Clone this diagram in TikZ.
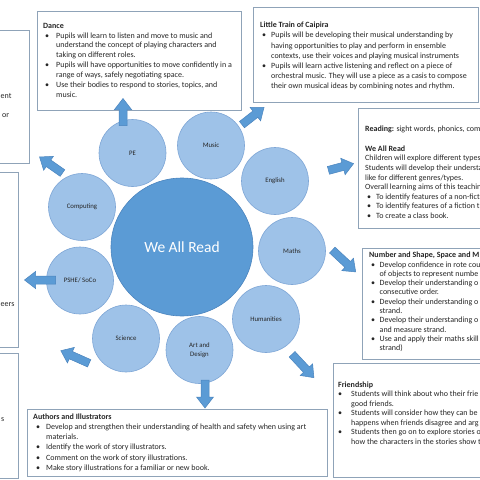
\documentclass[tikz,border=0pt]{standalone}
\usepackage{fontspec}
\setmainfont{Carlito}
\usetikzlibrary{shapes.geometric}
\definecolor{circfill}{HTML}{9EC2E8}
\definecolor{circdraw}{HTML}{7EA6D6}
\definecolor{mainfill}{HTML}{5B9BD5}
\definecolor{maindraw}{HTML}{4A84BE}
\definecolor{boxdraw}{HTML}{8FA3B8}
\definecolor{txt}{HTML}{262626}
\newcommand{\bul}[2]{\hspace*{#1}\makebox[#2][l]{\textbullet}}
\newcommand{\cnt}[1]{\hspace*{#1}}
% block arrow: centre x, centre y, angle, length
\newcommand{\blockarrow}[4]{%
  \draw[barrow, shift={(#1,#2)}, rotate=#3]
    ({-#4/2},-4) -- ({#4/2-11},-4) -- ({#4/2-11},-8.5) -- ({#4/2},0)
    -- ({#4/2-11},8.5) -- ({#4/2-11},4) -- ({-#4/2},4) -- cycle;}
\begin{document}
\begin{tikzpicture}[x=1pt,y=-1pt,
  infobox/.style={draw=boxdraw, line width=0.8pt, fill=white},
  boxtext/.style={anchor=north west, align=left, inner sep=0pt, text=txt},
  topic/.style={circle, draw=circdraw, fill=circfill, line width=0.6pt, minimum size=67pt, inner sep=0pt, font=\fontsize{6.8}{8.7}\selectfont, text=txt, align=center},
  hub/.style={ellipse, draw=maindraw, fill=mainfill, line width=0.6pt, minimum width=142pt, minimum height=138pt, inner sep=0pt, font=\fontsize{15.5}{18}\selectfont, text=white},
  barrow/.style={fill=mainfill, draw=maindraw, line width=0.5pt, line join=miter}]
\useasboundingbox (0,0) rectangle (480,480);
\clip (0,0) rectangle (480,480);
\fill[white] (0,0) rectangle (480,480);

% left boxes (cut by the edge)
\draw[infobox] (-10,30) rectangle (29,163);
\draw[infobox] (-10,172) rectangle (18,347);
\draw[infobox] (-10,353) rectangle (18,478);
\node[boxtext, anchor=base west, font=\fontsize{8}{10}\selectfont] (l1) at (0.5,98) {ent};
\node[boxtext, anchor=base west, font=\fontsize{8}{10}\selectfont] (l2) at (2,117) {or};
\node[boxtext, anchor=base west, font=\fontsize{8}{10}\selectfont] (l3) at (0.5,306) {eers};
\node[boxtext, anchor=base west, font=\fontsize{8}{10}\selectfont] (l4) at (1,421) {s};

% Dance
\draw[infobox] (37,11) rectangle (241,110);
\node[boxtext, font=\fontsize{8}{9.9}\selectfont] (dance) at (43,21) {\strut\textbf{Dance}\\
\bul{2pt}{11pt}Pupils will learn to listen and move to music and\\
\cnt{13pt}understand the concept of playing characters and\\
\cnt{13pt}taking on different roles.\\
\bul{2pt}{11pt}Pupils will have opportunities to move confidently in a\\
\cnt{13pt}range of ways, safely negotiating space.\\
\bul{2pt}{11pt}Use their bodies to respond to stories, topics, and\\
\cnt{13pt}music.};

% Little Train of Caipira
\draw[infobox] (253,7) rectangle (478,102);
\node[boxtext, font=\fontsize{8}{10.2}\selectfont] (train) at (260,20.4) {\strut\textbf{Little Train of Caipira}\\
\bul{2pt}{9pt}Pupils will be developing their musical understanding by\\
\cnt{11pt}having opportunities to play and perform in ensemble\\
\cnt{11pt}contexts, use their voices and playing musical instruments\\
\bul{2pt}{9pt}Pupils will learn active listening and reflect on a piece of\\
\cnt{11pt}orchestral music. They will use a piece as a casis to compose\\
\cnt{11pt}their own musical ideas by combining notes and rhythm.};

% Reading
\draw[infobox] (358,108) rectangle (490,228);
\node[boxtext, font=\fontsize{8}{9.6}\selectfont] (reading) at (365,124.7) {\strut\textbf{Reading:} sight words, phonics, com\\[10pt]
\textbf{We All Read}\\
Children will explore different types\\
Students will develop their understa\\
like for different genres/types.\\
Overall learning aims of this teachin\\
\bul{2pt}{9pt}To identify features of a non-fict\\
\bul{2pt}{9pt}To identify features of a fiction t\\
\bul{2pt}{9pt}To create a class book.};

% Number
\draw[infobox] (362,248) rectangle (490,359);
\node[boxtext, font=\fontsize{8}{9.3}\selectfont] (number) at (369,251) {\strut\textbf{Number and Shape, Space and M}\\
\bul{2pt}{8.5pt}Develop confidence in rote cou\\
\cnt{10.5pt}of objects to represent numbe\\
\bul{2pt}{8.5pt}Develop their understanding o\\
\cnt{10.5pt}consecutive order.\\
\bul{2pt}{8.5pt}Develop their understanding o\\
\cnt{10.5pt}strand.\\
\bul{2pt}{8.5pt}Develop their understanding o\\
\cnt{10.5pt}and measure strand.\\
\bul{2pt}{8.5pt}Use and apply their maths skill\\
\cnt{10.5pt}strand)};

% Friendship
\draw[infobox] (333,363) rectangle (490,477);
\node[boxtext, font=\fontsize{8}{9.5}\selectfont] (friend) at (338,380.3) {\strut\textbf{Friendship}\\
\bul{0pt}{13pt}Students will think about who their frie\\
\cnt{13pt}good friends.\\
\bul{0pt}{13pt}Students will consider how they can be\\
\cnt{13pt}happens when friends disagree and arg\\
\bul{0pt}{13pt}Students then go on to explore stories o\\
\cnt{13pt}how the characters in the stories show t};

% Authors and Illustrators
\draw[infobox] (27,409) rectangle (327,476);
\node[boxtext, font=\fontsize{8}{10.2}\selectfont] (authors) at (33,411.9) {\strut\textbf{Authors and Illustrators}\\
\bul{3pt}{10pt}Develop and strengthen their understanding of health and safety when using art\\
\cnt{13pt}materials.\\
\bul{3pt}{10pt}Identify the work of story illustrators.\\
\bul{3pt}{10pt}Comment on the work of story illustrations.\\
\bul{3pt}{10pt}Make story illustrations for a familiar or new book.};

% circles
\node[hub] (hub) at (182,247) {We All Read};
\node[topic] (pe) at (132.5,153) {PE};
\node[topic] (music) at (211,145.5) {Music};
\node[topic] (english) at (275,181) {English};
\node[topic] (maths) at (292,251) {Maths};
\node[topic] (hum) at (266,319) {Humanities};
\node[topic] (art) at (199.5,350) {Art and\\Design};
\node[topic] (sci) at (126,338.5) {Science};
\node[topic] (pshe) at (80,280.5) {PSHE/ SoCo};
\node[topic] (comp) at (82,207) {Computing};

% block arrows
\blockarrow{123}{112}{90}{27}
\blockarrow{253}{116}{38}{28}
\blockarrow{341}{167}{15}{26}
\blockarrow{344}{261}{-43}{32}
\blockarrow{303}{366}{-47}{32}
\blockarrow{205}{394}{-90}{28}
\blockarrow{75}{357}{156}{31}
\blockarrow{40}{280}{180}{31}
\blockarrow{51}{165}{145}{28}
\end{tikzpicture}
\end{document}
